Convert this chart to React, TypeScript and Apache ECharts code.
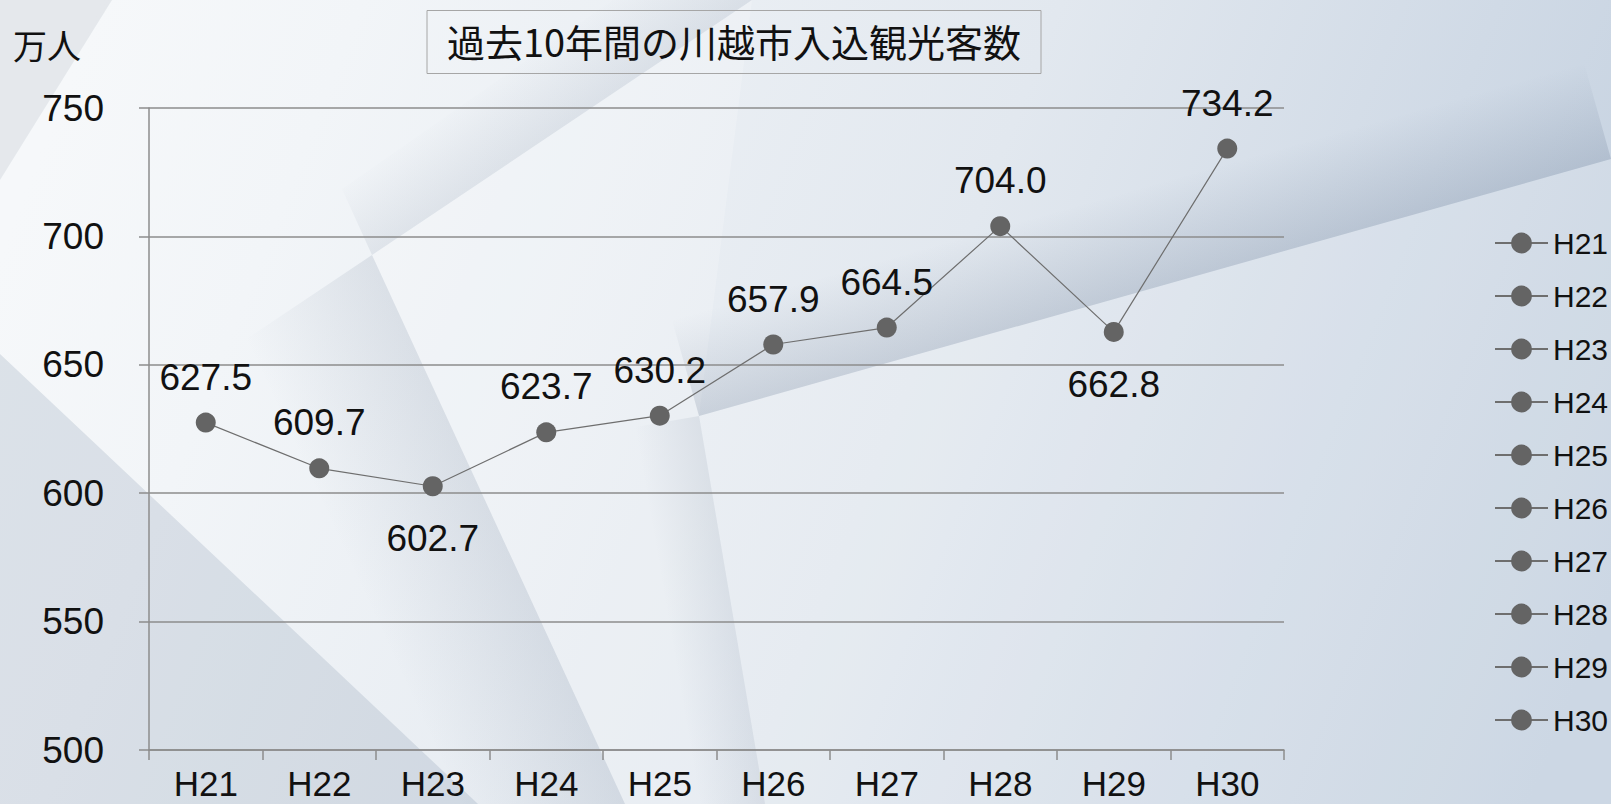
import React, { useEffect, useRef } from "react";
import * as echarts from "echarts";

// ---- data ----
const categories = ["H21", "H22", "H23", "H24", "H25", "H26", "H27", "H28", "H29", "H30"];
const visitors = [627.5, 609.7, 602.7, 623.7, 630.2, 657.9, 664.5, 704.0, 662.8, 734.2];
const yMin = 500;
const yMax = 750;
const yStep = 50;
const titleText = "過去10年間の川越市入込観光客数";
const unitText = "万人";

// ---- style ----
const NUM_FONT = "'Liberation Sans', Arial, 'Noto Sans CJK JP', sans-serif";
const CJK_FONT = "'Noto Sans CJK JP', 'Noto Sans', sans-serif";
const GRID_COLOR = "#8c8c8c";
const MARK_COLOR = "#646464";
const LINE_COLOR = "#6e6e6e";
const TEXT_COLOR = "#111111";
const labelsBelow = ["H23", "H29"];
const labelShift: Record<string, number[]> = { H26: [-41, 0] };

function shadow(points: number[][], from: number[], to: number[], alpha: number) {
  return {
    type: "polygon",
    silent: true,
    z: -9,
    shape: { points },
    style: {
      fill: new echarts.graphic.LinearGradient(
        from[0], from[1], to[0], to[1],
        [
          { offset: 0, color: `rgba(70,90,120,${alpha})` },
          { offset: 1, color: "rgba(70,90,120,0)" },
        ],
        true
      ),
    },
  };
}

export default function App() {
  const ref = useRef<HTMLDivElement>(null);

  useEffect(() => {
    if (!ref.current) return;
    const chart = echarts.init(ref.current, null, { renderer: "svg" });

    const mainData = visitors.map((v, i) => {
      const cat = categories[i];
      const below = labelsBelow.includes(cat);
      return {
        value: v,
        label: {
          position: below ? "bottom" : "top",
          distance: below ? 24 : 17,
          offset: labelShift[cat] || [0, 0],
        },
      };
    });

    const legendSeries = categories.map((c) => ({
      type: "line",
      name: c,
      data: [],
      symbol: "circle",
      symbolSize: 20,
      lineStyle: { color: LINE_COLOR, width: 1.2 },
      itemStyle: { color: MARK_COLOR, borderWidth: 0 },
    }));

    const option: any = {
      animation: false,
      backgroundColor: "transparent",
      graphic: [
        {
          type: "rect",
          silent: true,
          z: -10,
          shape: { x: 0, y: 0, width: 1611, height: 804 },
          style: {
            fill: new echarts.graphic.LinearGradient(
              100, 0, 1611, 600,
              [
                { offset: 0, color: "#f6f8fa" },
                { offset: 0.15, color: "#f2f5f8" },
                { offset: 0.55, color: "#e2e8ef" },
                { offset: 0.8, color: "#d0dae6" },
                { offset: 1, color: "#c3d0df" },
              ],
              true
            ),
          },
        },
        // top-left dark wedge
        {
          type: "polygon",
          silent: true,
          z: -9,
          shape: { points: [[0, 0], [112, 0], [0, 180]] },
          style: { fill: "rgba(90,105,130,0.11)" },
        },
        // bottom-left dark wedge
        {
          type: "polygon",
          silent: true,
          z: -9,
          shape: { points: [[0, 354], [478, 804], [0, 804]] },
          style: { fill: "rgba(90,110,140,0.16)" },
        },
        // light sheet lower right
        {
          type: "polygon",
          silent: true,
          z: -9,
          shape: { points: [[699, 416], [1611, 159], [1611, 804], [765, 804]] },
          style: { fill: "rgba(255,255,255,0.16)" },
        },
        // light sheet center
        {
          type: "polygon",
          silent: true,
          z: -9,
          shape: { points: [[752, 0], [372, 255], [625, 804], [765, 804], [699, 416]] },
          style: { fill: "rgba(255,255,255,0.2)" },
        },
        // shadows along sheet edges
        shadow([[752, 0], [372, 255], [342, 189], [707, -66]], [562, 127], [517, 61], 0.1),
        shadow([[372, 255], [625, 804], [490, 866], [236, 346]], [498, 529], [362, 592], 0.12),
        shadow([[699, 416], [765, 804], [690, 817], [624, 429]], [732, 610], [668, 621], 0.1),
        shadow([[699, 416], [1611, 159], [1584, 63], [672, 320]], [1155, 287], [1128, 191], 0.18),
        // title box
        {
          type: "rect",
          silent: true,
          shape: { x: 427, y: 10.5, width: 614, height: 63 },
          style: { fill: "rgba(255,255,255,0)", stroke: "#a6a6a6", lineWidth: 1 },
        },
        {
          type: "text",
          silent: true,
          x: 734,
          y: 40,
          style: {
            text: titleText,
            font: `38px ${CJK_FONT}`,
            fill: TEXT_COLOR,
            align: "center",
            verticalAlign: "middle",
          },
        },
        {
          type: "text",
          silent: true,
          x: 13,
          y: 44,
          style: {
            text: unitText,
            font: `34px ${CJK_FONT}`,
            fill: TEXT_COLOR,
            align: "left",
            verticalAlign: "middle",
          },
        },
      ],
      legend: {
        orient: "vertical",
        left: 1494,
        top: 228,
        padding: 0,
        itemWidth: 53,
        itemHeight: 26,
        itemGap: 23,
        selectedMode: false,
        data: categories,
        textStyle: {
          fontSize: 30,
          lineHeight: 30,
          fontFamily: NUM_FONT,
          color: TEXT_COLOR,
        },
      },
      grid: { left: 149, right: 327, top: 108, bottom: 54, containLabel: false },
      xAxis: {
        type: "category",
        data: categories,
        boundaryGap: true,
        axisLine: { show: true, lineStyle: { color: GRID_COLOR, width: 1.5 } },
        axisTick: { show: true, length: 10, lineStyle: { color: GRID_COLOR, width: 1.5 } },
        axisLabel: {
          margin: 22,
          fontSize: 35,
          lineHeight: 22,
          fontFamily: NUM_FONT,
          color: TEXT_COLOR,
        },
        splitLine: { show: false },
      },
      yAxis: {
        type: "value",
        min: yMin,
        max: yMax,
        interval: yStep,
        axisLine: { show: true, lineStyle: { color: GRID_COLOR, width: 1.5 } },
        axisTick: { show: true, length: 10, lineStyle: { color: GRID_COLOR, width: 1.5 } },
        axisLabel: {
          margin: 45,
          fontSize: 37,
          fontFamily: NUM_FONT,
          color: TEXT_COLOR,
        },
        splitLine: { show: true, lineStyle: { color: GRID_COLOR, width: 1.5 } },
      },
      series: [
        {
          type: "line",
          name: "入込観光客数",
          data: mainData,
          symbol: "circle",
          symbolSize: 20,
          lineStyle: { color: LINE_COLOR, width: 1.2 },
          itemStyle: { color: MARK_COLOR, borderWidth: 0 },
          label: {
            show: true,
            fontSize: 37,
            fontFamily: NUM_FONT,
            color: TEXT_COLOR,
            formatter: (p: any) => Number(p.value).toFixed(1),
          },
          labelLayout: { moveOverlap: false, hideOverlap: false },
          z: 5,
        },
        ...legendSeries,
      ],
    };

    chart.setOption(option);
    return () => chart.dispose();
  }, []);

  return (
    <div
      ref={ref}
      style={{ position: "absolute", left: 0, top: 0, width: 1611, height: 804 }}
    />
  );
}
